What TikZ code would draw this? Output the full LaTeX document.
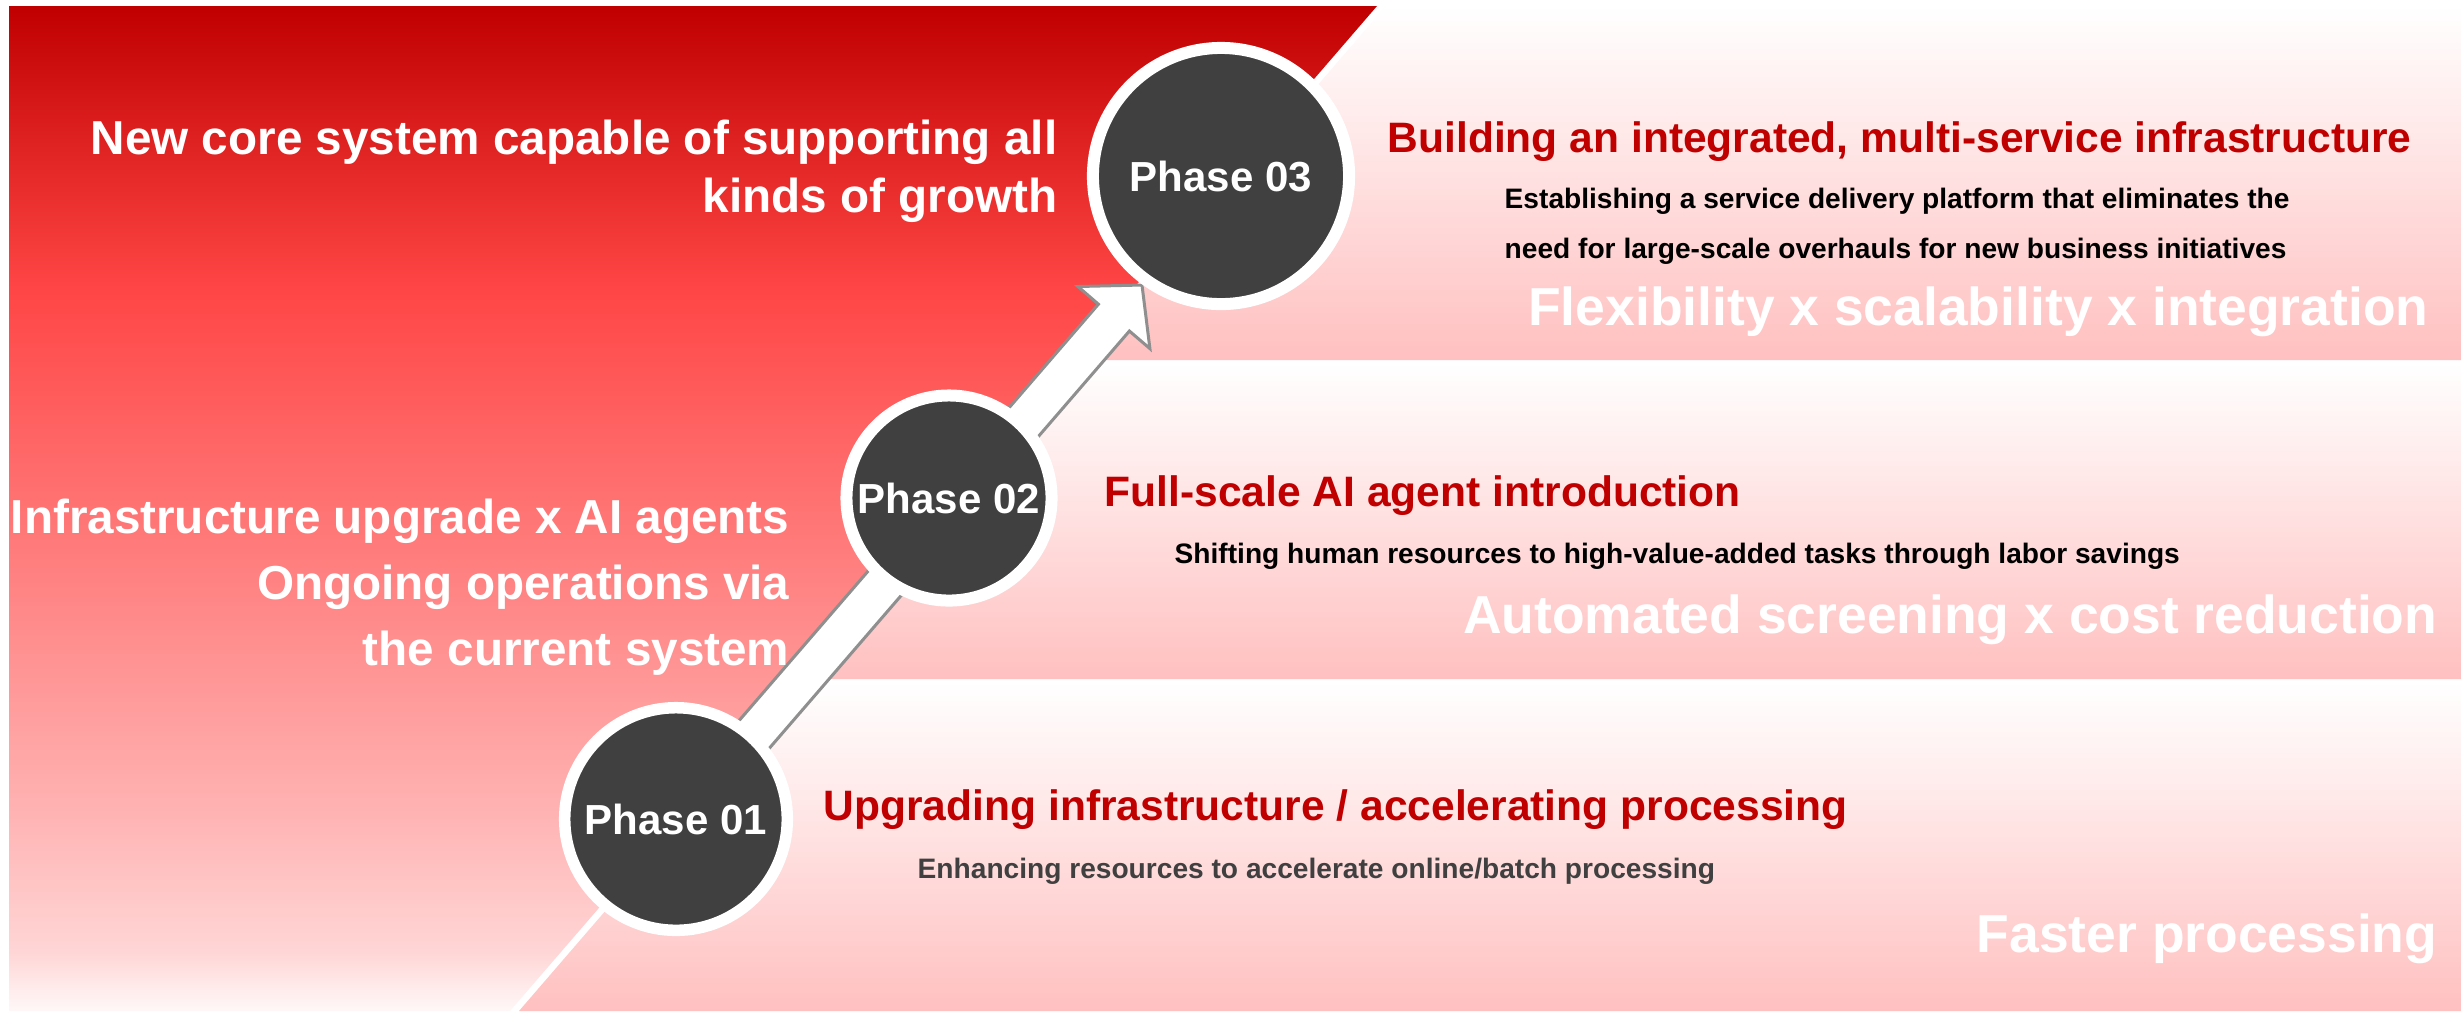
\documentclass[tikz,border=0pt]{standalone}
\usepackage{fontspec}
\setmainfont{Liberation Sans}
\definecolor{rg0}{HTML}{FFF8F8}
\definecolor{rg1}{HTML}{FFD5D5}
\definecolor{rg2}{HTML}{FFB0B0}
\definecolor{rg3}{HTML}{FF4545}
\definecolor{rg4}{HTML}{C00000}
\definecolor{pinkbot}{HTML}{FFC0C0}
\definecolor{titlered}{HTML}{C00000}
\definecolor{phasegray}{HTML}{404040}
\definecolor{arrowgray}{HTML}{8F8F8F}
\definecolor{subgray}{HTML}{404040}
\pgfdeclareverticalshading{redgrad}{100bp}{color(0bp)=(rg0); color(25bp)=(rg0); color(28bp)=(rg1); color(35.5bp)=(rg2); color(61bp)=(rg3); color(75bp)=(rg4); color(100bp)=(rg4)}
\begin{document}
\begin{tikzpicture}[x=0.01cm,y=-0.01cm,
  panel/.style={top color=white, bottom color=pinkbot, draw=none},
  lefttxt/.style={font=\fontsize{13.55}{16}\selectfont\bfseries, text=white, inner sep=0pt, anchor=base east},
  titletxt/.style={font=\fontsize{12.1}{14}\selectfont\bfseries, text=titlered, inner sep=0pt, anchor=base west},
  subtxt/.style={font=\fontsize{8}{10}\selectfont\bfseries, inner sep=0pt, anchor=base west},
  bigtxt/.style={font=\fontsize{15.2}{18}\selectfont\bfseries, text=white, inner sep=0pt, anchor=base east},
  phase/.style={circle, fill=phasegray, draw=white, inner sep=0pt, text=white, font=\fontsize{11.95}{14}\selectfont\bfseries},
  blockarrow/.style={fill=white, draw=arrowgray, line width=0.03cm, line join=miter}
]
\useasboundingbox (0,0) rectangle (2461,1026);
\fill[white] (0,0) rectangle (2461,1026);

% panels
\shade[panel] (1386,6) -- (2461,6) -- (2461,360) -- (1080.6,360) -- cycle;
\shade[panel] (1078,363) -- (2461,363) -- (2461,679) -- (805.4,679) -- cycle;
\shade[panel] (802.8,682) -- (2461,682) -- (2461,1011) -- (519,1011) -- cycle;

% red region
\shade[shading=redgrad] (9,6) -- (1377,6) -- (510,1011) -- (9,1011) -- cycle;

% arrow coordinates
\coordinate (tip) at (1142,285);
\coordinate (lb) at (1077.9,286.5);
\coordinate (rb) at (1149.9,348.6);
\coordinate (ln) at (1098.4,304.2);
\coordinate (rn) at (1129.4,331.0);
\coordinate (tl) at (665.7,805.6);
\coordinate (tr) at (696.7,832.4);
\draw[blockarrow] (tl) -- (ln) -- (lb) -- (tip) -- (rb) -- (rn) -- (tr) -- cycle;

% phase circles
\node[phase, minimum size=2.225cm, line width=0.115cm] (p1) at (676,819) {Phase 01};
\node[phase, minimum size=2.05cm, line width=0.12cm] (p2) at (949,498) {Phase 02};
\node[phase, minimum size=2.56cm, line width=0.12cm] (p3) at (1221,176) {Phase 03};

% left texts
\node[lefttxt] (l3a) at (1058,154) {New core system capable of supporting all};
\node[lefttxt] (l3b) at (1058,212) {kinds of growth};
\node[lefttxt] (l2a) at (790,533) {Infrastructure upgrade x AI agents};
\node[lefttxt] (l2b) at (790,599) {Ongoing operations via};
\node[lefttxt] (l2c) at (790,665) {the current system};

% phase 03 texts
\node[titletxt] (t3) at (1387,152) {Building an integrated, multi-service infrastructure};
\node[subtxt, text=black] (s3a) at (1504,208) {Establishing a service delivery platform that eliminates the};
\node[subtxt, text=black] (s3b) at (1504,258) {need for large-scale overhauls for new business initiatives};
\node[bigtxt] (w3) at (2429,325) {Flexibility x scalability x integration};

% phase 02 texts
\node[titletxt] (t2) at (1104,506) {Full-scale AI agent introduction};
\node[subtxt, text=black] (s2) at (1174,563) {Shifting human resources to high-value-added tasks through labor savings};
\node[bigtxt] (w2) at (2438,633) {Automated screening x cost reduction};

% phase 01 texts
\node[titletxt] (t1) at (823,820) {Upgrading infrastructure / accelerating processing};
\node[subtxt, text=subgray] (s1) at (917,878) {Enhancing resources to accelerate online/batch processing};
\node[bigtxt] (w1) at (2438,952) {Faster processing};
\end{tikzpicture}
\end{document}
